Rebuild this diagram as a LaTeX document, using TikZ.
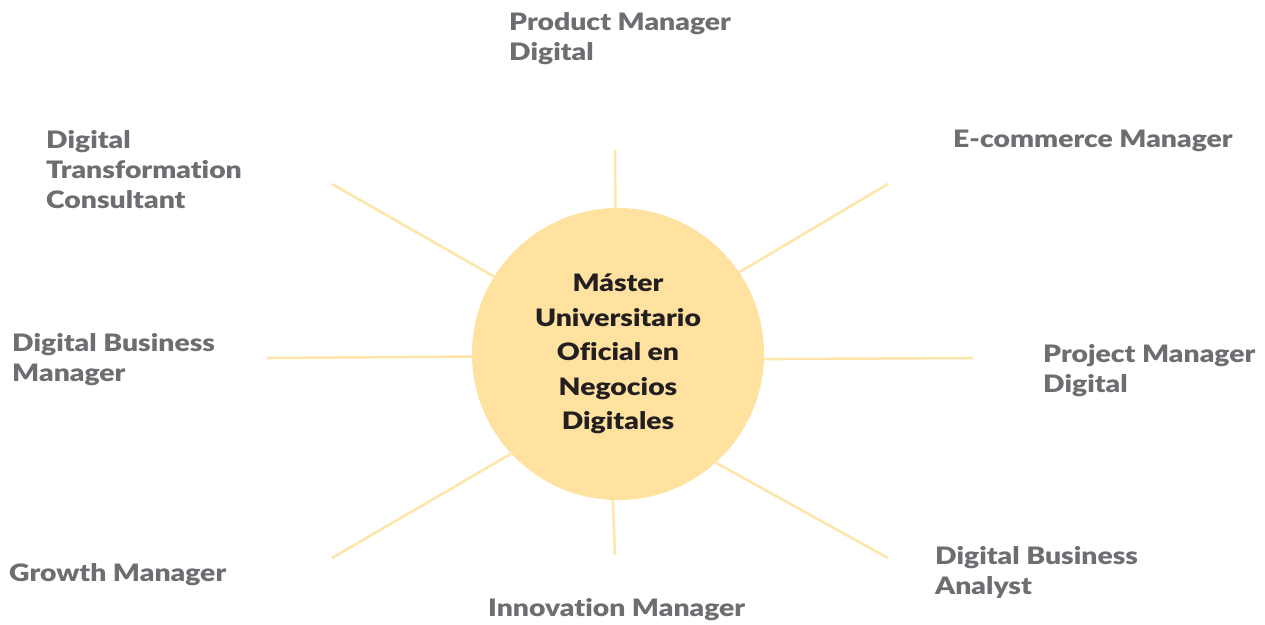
\documentclass[tikz,border=0pt]{standalone}
\usepackage{fontspec}
\setmainfont{Lato}[UprightFont=* Black,FakeStretch=1.18,Ligatures=NoCommon]
\definecolor{ray}{HTML}{FEE5A9}
\definecolor{disc}{HTML}{FFE1A0}
\definecolor{labelgray}{HTML}{6D6E71}
\definecolor{titledark}{HTML}{231F20}
\begin{document}
\begin{tikzpicture}[x=1pt,y=-1pt,
  role/.style={anchor=north west,inner sep=0pt,align=left,text=labelgray,
    font=\fontsize{24}{30}\selectfont},
  rayline/.style={draw=ray,line width=2.5pt},
  hub/.style={circle,fill=disc,minimum size=292pt,inner sep=0pt,align=center,
    text=titledark,font=\fontsize{24}{34.5}\selectfont}]
\useasboundingbox (0,0) rectangle (1265,624);
% central disc
\node[hub] (hub) at (618,354) {Máster\\Universitario\\Oficial en\\Negocios\\Digitales};
% outer ends of the rays
\coordinate (rN)  at (615,150);
\coordinate (rS)  at (615,555);
\coordinate (rW)  at (267,358);
\coordinate (rE)  at (973,358);
\coordinate (rNW) at (332,184);
\coordinate (rNE) at (888,184);
\coordinate (rSW) at (332,558);
\coordinate (rSE) at (888,558);
% rays, each meeting the disc at its own angle
\foreach \c/\a in {rN/91.2,rS/268.8,rW/181.6,rE/358.4,rNW/148.4,rNE/34.3,rSW/223.9,rSE/312.8}
  \draw[rayline] (\c) -- (hub.\a);
% role labels
\node[role] (pm)  at (509,12)  {Product Manager\\Digital};
\node[role] (dtc) at (46,130)  {Digital\\Transformation\\Consultant};
\node[role] (ecm) at (953,130) {E-commerce Manager};
\node[role] (dbm) at (12,333)  {Digital Business\\Manager};
\node[role] (pjm) at (1043,344) {Project Manager\\Digital};
\node[role] (gm)  at (9,563)   {Growth Manager};
\node[role] (dba) at (935,546) {Digital Business\\Analyst};
\node[role] (im)  at (488,598) {Innovation Manager};
\end{tikzpicture}
\end{document}
